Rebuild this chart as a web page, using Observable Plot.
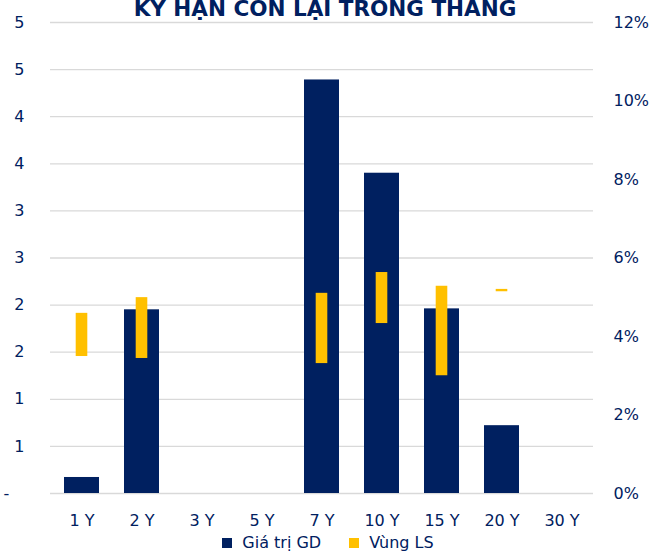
<!DOCTYPE html>
<html>
<head>
<meta charset="utf-8">
<script src="https://cdn.jsdelivr.net/npm/d3@7"></script>
<script src="https://cdn.jsdelivr.net/npm/@observablehq/plot@0.6"></script>
<style>
  html, body { margin: 0; padding: 0; background: #fff; }
  #wrap { position: relative; width: 656px; height: 552px; overflow: hidden; background: #fff; font-family: "DejaVu Sans", sans-serif; color: #002060; }
  #title { position: absolute; top: -2px; left: 0; width: 650px; text-align: center; font-weight: bold; font-size: 21.5px; line-height: 21.5px; white-space: nowrap; }
  #chart { position: absolute; top: 0; left: 0; }
  #legend { position: absolute; top: 534px; left: 0; width: 656px; display: flex; justify-content: center; align-items: center; font-size: 16px; line-height: 18px; }
  .item { display: flex; align-items: center; margin: 0 14px; }
  .sw { width: 10px; height: 10px; margin-right: 10px; }
</style>
</head>
<body>
<div id="wrap">
  <div id="chart"></div>
  <div id="title">KỲ HẠN CÒN LẠI TRONG THÁNG</div>
  <div id="legend"></div>
</div>
<script>
// Categories (remaining maturity)
const categories = ["1 Y", "2 Y", "3 Y", "5 Y", "7 Y", "10 Y", "15 Y", "20 Y", "30 Y"];
// Giá trị GD (left axis)
const giaTriGD = [0.17, 1.95, null, null, 4.39, 3.40, 1.96, 0.72, null];
// Vùng LS (right axis, %): low and high of the yield range
const lsLow  = [3.49, 3.44, null, null, 3.31, 4.33, 3.00, 5.14, null];
const lsHigh = [4.59, 4.99, null, null, 5.10, 5.63, 5.28, 5.20, null];
// Tick values
const leftTicks = [0, 0.5, 1, 1.5, 2, 2.5, 3, 3.5, 4, 4.5, 5];
const rightTicks = [0, 2, 4, 6, 8, 10, 12];
const seriesNames = ["Giá trị GD", "Vùng LS"];
const seriesColors = ["#002060", "#FFC000"];

const leftMax = 5, rightMax = 12;
const ratio = leftMax / rightMax;

const table = categories.map((c, i) => ({cat: c, gd: giaTriGD[i], lo: lsLow[i], hi: lsHigh[i]}));

const chart = Plot.plot({
  width: 656,
  height: 532,
  marginTop: 22,
  marginBottom: 39,
  marginLeft: 50,
  marginRight: 63,
  style: {fontFamily: "DejaVu Sans", fontSize: "16px", color: "#002060", background: "transparent"},
  x: {domain: categories, paddingInner: 0.42, paddingOuter: 0.21, label: null},
  y: {domain: [0, leftMax], label: null},
  marks: [
    Plot.ruleY(leftTicks, {stroke: "#d9d9d9", strokeWidth: 1.3}),
    Plot.barY(table.filter(d => d.gd != null), {x: "cat", y: "gd", fill: seriesColors[0]}),
    Plot.barY(table.filter(d => d.lo != null), {
      x: "cat", y1: d => d.lo * ratio, y2: d => d.hi * ratio,
      fill: seriesColors[1], insetLeft: 11.7, insetRight: 11.7
    }),
    Plot.axisX({tickSize: 0, tickPadding: 21, fontSize: 16}),
    Plot.axisY({anchor: "left", ticks: leftTicks, tickSize: 0, tickPadding: 26, fontSize: 16,
      tickFormat: d => d === 0 ? "-\u00a0\u00a0\u00a0" : String(Math.round(d))}),
    Plot.axisY({anchor: "right", ticks: rightTicks.map(t => t * ratio), tickSize: 0, tickPadding: 20, fontSize: 16,
      textAnchor: "start", tickFormat: d => Math.round(d / ratio) + "%"})
  ]
});
document.getElementById("chart").appendChild(chart);

const legend = document.getElementById("legend");
seriesNames.forEach((n, i) => {
  const it = document.createElement("div");
  it.className = "item";
  const sw = document.createElement("span");
  sw.className = "sw";
  sw.style.background = seriesColors[i];
  const tx = document.createElement("span");
  tx.textContent = n;
  it.appendChild(sw); it.appendChild(tx);
  legend.appendChild(it);
});
</script>
</body>
</html>
